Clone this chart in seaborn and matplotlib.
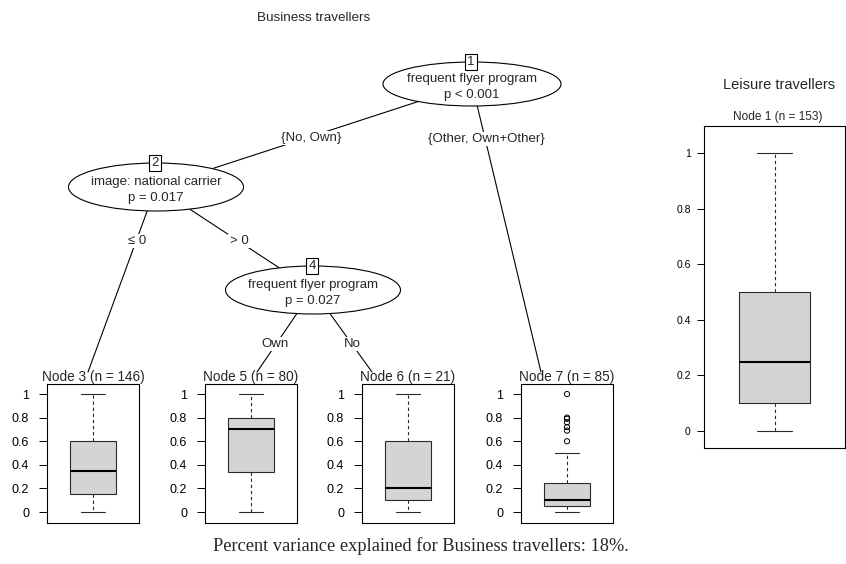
import numpy as np
import pandas as pd
import matplotlib
matplotlib.use("Agg")
import matplotlib.pyplot as plt
import seaborn as sns
from matplotlib.patches import Ellipse

# ==================== data ====================
# terminal nodes of the business-traveller tree
node_ids = [3, 5, 6, 7]
node_n = [146, 80, 21, 85]
# min, q1, median, q3, max (whisker ends)
node3_stats = [0.0, 0.15, 0.35, 0.60, 1.0]
node5_stats = [0.0, 0.34, 0.70, 0.80, 1.0]
node6_stats = [0.0, 0.10, 0.20, 0.60, 1.0]
node7_stats = [0.0, 0.05, 0.10, 0.25, 0.50]
node7_outliers = [0.60, 0.69, 0.72, 0.76, 0.79, 0.80, 1.0]

leisure_n = 153
leisure_stats = [0.0, 0.10, 0.25, 0.50, 1.0]

yticks = [0, 0.2, 0.4, 0.6, 0.8, 1]
ytick_labels = ["0", "0.2", "0.4", "0.6", "0.8", "1"]

inner_ids = [1, 2, 4]
inner_vars = ["frequent flyer program", "image: national carrier", "frequent flyer program"]
inner_p = ["p < 0.001", "p = 0.017", "p = 0.027"]
edge_labels = ["{No, Own}", "{Other, Own+Other}", "\u2264 0", "> 0", "Own", "No"]

variance_explained = 18

# ==================== layout (pixels) ====================
W, H = 846, 564
SANS = ["Liberation Sans", "DejaVu Sans"]
SERIF = ["Liberation Serif", "DejaVu Serif"]

sns.set_theme(style="white")
plt.rcParams["font.family"] = SANS

inner_pos = {1: (472, 84), 2: (156, 187), 4: (313, 290)}
inner_size = {1: (178, 44), 2: (175, 48), 4: (175, 48)}
# (left, top, right, bottom)
panel_px = {3: (47, 384, 139, 523), 5: (205, 384, 297, 523),
            6: (362, 384, 454, 523), 7: (521, 384, 613, 523)}
leisure_px = (704, 126, 845, 448)
term_top = {3: (88, 372), 5: (257, 372), 6: (372, 372), 7: (541, 372)}
edges = [(1, 2), (1, 7), (2, 3), (2, 4), (4, 5), (4, 6)]
edge_label_pos = [(311, 138), (486, 139), (137, 241), (239, 241), (275, 344), (352, 344)]


def rect(px):
    l, t, r, b = px
    return [l / W, 1 - b / H, (r - l) / W, (b - t) / H]


def draw_box(ax, stats, outliers=None, tick_fs=9, tlen=5.8, tpad=7):
    df = pd.DataFrame({"value": stats})
    sns.boxplot(data=df, y="value", ax=ax, whis=(0, 100), width=0.51,
                color="#d4d4d4", saturation=1, linecolor="#2a2a2a", linewidth=0.8,
                medianprops={"color": "black", "linewidth": 1.5},
                whiskerprops={"linestyle": (0, (3, 2.5))},
                showfliers=False)
    if outliers:
        ax.scatter(np.zeros(len(outliers)), outliers, s=14, facecolors="none",
                   edgecolors="black", linewidths=0.7, zorder=5)
    ax.set_xlim(-0.5, 0.5)
    ax.set_xticks([])
    ax.set_yticks(yticks, ytick_labels)
    ax.set_xlabel("")
    ax.set_ylabel("")
    ax.tick_params(axis="y", left=True, length=tlen, width=0.7, pad=tpad,
                   labelsize=tick_fs, colors="black")
    for s in ax.spines.values():
        s.set_visible(True)
        s.set_color("black")
        s.set_linewidth(0.8)


fig = plt.figure(figsize=(W / 100, H / 100), dpi=100)
bg = fig.add_axes([0, 0, 1, 1])
bg.set_xlim(0, W)
bg.set_ylim(H, 0)
bg.axis("off")

# edges
def node_xy(k):
    return inner_pos[k] if k in inner_pos else term_top[k]

for (a, b), lab, (lx, ly) in zip(edges, edge_labels, edge_label_pos):
    (x0, y0), (x1, y1) = node_xy(a), node_xy(b)
    bg.plot([x0, x1], [y0, y1], color="black", lw=0.8, zorder=1)
    bg.text(lx, ly, lab, ha="center", va="center", fontsize=9.5, zorder=3,
            bbox=dict(boxstyle="square,pad=0.1", fc="white", ec="none"))

# inner nodes
for k, var, p in zip(inner_ids, inner_vars, inner_p):
    x, y = inner_pos[k]
    w, h = inner_size[k]
    bg.add_patch(Ellipse((x, y), w, h, fc="white", ec="black", lw=0.8, zorder=2))
    bg.text(x, y - 5, var, ha="center", va="center", fontsize=9.5, zorder=3)
    bg.text(x, y + 11, p, ha="center", va="center", fontsize=9.5, zorder=3)
    bg.text(x - 1, y - h / 2, str(k), ha="center", va="center", fontsize=9.5, zorder=4,
            bbox=dict(boxstyle="square,pad=0.18", fc="white", ec="black", lw=0.8))

bg.text(314, 18, "Business travellers", ha="center", va="center", fontsize=9.7)

# terminal panels
term_stats = [node3_stats, node5_stats, node6_stats, node7_stats]
for k, n, st in zip(node_ids, node_n, term_stats):
    ax = fig.add_axes(rect(panel_px[k]))
    draw_box(ax, st, node7_outliers if k == 7 else None)
    ax.set_ylim(-0.093, 1.085)
    ax.text(0.5, 1.0, f"Node {k} (n = {n})", transform=ax.transAxes,
            ha="center", va="bottom", fontsize=9.8)

# leisure travellers
lax = fig.add_axes(rect(leisure_px))
draw_box(lax, leisure_stats, tick_fs=7.5, tlen=5, tpad=4.5)
lax.set_ylim(-0.061, 1.097)
lax.text(0.52, 1.008, f"Node 1 (n = {leisure_n})", transform=lax.transAxes,
         ha="center", va="bottom", fontsize=8.6)
bg.text(779, 85, "Leisure travellers", ha="center", va="center", fontsize=10.5)

bg.text(421, 546, f"Percent variance explained for Business travellers: {variance_explained}%.",
        ha="center", va="center", fontsize=13.2, family=SERIF)

fig.savefig("out.png", dpi=100)
